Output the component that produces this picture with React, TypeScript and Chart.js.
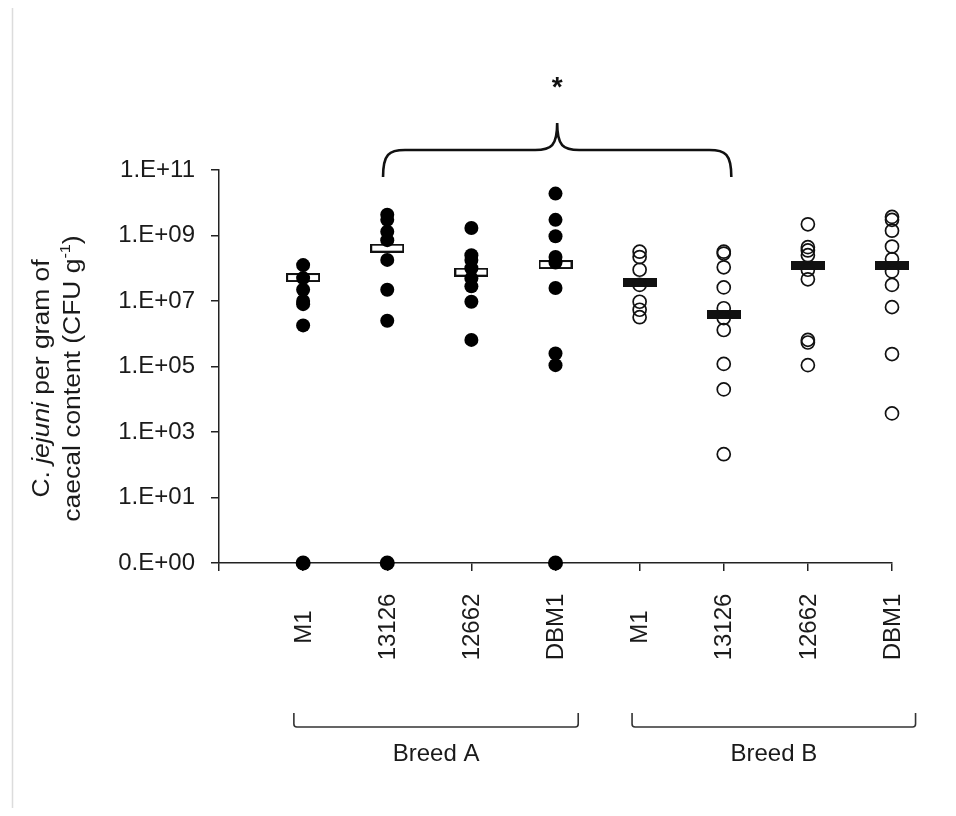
import React, { useEffect, useRef } from 'react';
import { Chart, registerables } from 'chart.js';
Chart.register(...registerables);

// ---- data ----
const categories = ['M1', '13126', '12662', 'DBM1', 'M1', '13126', '12662', 'DBM1'];
const breeds = ['Breed A', 'Breed B'];
const yTickValues = [0.1, 1e1, 1e3, 1e5, 1e7, 1e9, 1e11];
const yTickLabels = ['0.E+00', '1.E+01', '1.E+03', '1.E+05', '1.E+07', '1.E+09', '1.E+11'];
const significanceMark = '*';

// C. jejuni CFU per gram, individual birds (0 = not detected)
const breedA_M1 = [0, 1.8e6, 8e6, 1.0e7, 2.2e7, 5e7, 1.25e8];
const breedA_13126 = [0, 2.5e6, 2.2e7, 1.8e8, 7.2e8, 1.3e9, 3.0e9, 4.3e9];
const breedA_12662 = [6.5e5, 9.5e6, 2.8e7, 4.9e7, 1.0e8, 1.8e8, 2.5e8, 1.7e9];
const breedA_DBM1 = [0, 1.1e5, 2.5e5, 2.5e7, 1.5e8, 2.2e8, 9.5e8, 3.0e9, 1.9e10];
const breedB_M1 = [3.2e6, 5.4e6, 9.5e6, 3.1e7, 9e7, 2.2e8, 3.2e8];
const breedB_13126 = [2.1e2, 2e4, 1.2e5, 1.3e6, 3e6, 6e6, 2.6e7, 1.07e8, 2.8e8, 3.2e8];
const breedB_12662 = [1.1e5, 5.4e5, 6.5e5, 4.6e7, 9e7, 2.5e8, 3.5e8, 4.4e8, 2.2e9];
const breedB_DBM1 = [3.7e3, 2.4e5, 6.5e6, 3.1e7, 8e7, 1.9e8, 4.6e8, 1.4e9, 3.0e9, 3.7e9];

const meansA = [5.2e7, 4.1e8, 7.6e7, 1.3e8];
const meansB = [3.8e7, 4.0e6, 1.2e8, 1.2e8];

const groupsA = [breedA_M1, breedA_13126, breedA_12662, breedA_DBM1];
const groupsB = [breedB_M1, breedB_13126, breedB_12662, breedB_DBM1];

const FONT = "'Liberation Sans', Arial, sans-serif";
const INK = '#1a1a1a';

function toPoints(groups: number[][], offset: number, zero: boolean) {
  const pts: { x: number; y: number }[] = [];
  groups.forEach((g, i) => {
    g.forEach((v) => {
      if ((v === 0) === zero) pts.push({ x: i + 1 + offset, y: v === 0 ? 0.1 : v });
    });
  });
  return pts;
}

function barImage(fill: string, stroke: string) {
  const c = document.createElement('canvas');
  c.width = 34;
  c.height = 9;
  const ctx = c.getContext('2d')!;
  ctx.fillStyle = stroke;
  ctx.fillRect(0, 0, 34, 9);
  if (fill !== stroke) {
    ctx.fillStyle = fill;
    ctx.fillRect(2, 2, 30, 5);
  }
  return c;
}

type Seg = { t: string; italic?: boolean; sup?: boolean };

function drawRotated(ctx: CanvasRenderingContext2D, segs: Seg[], bx: number, cy: number, size: number, stretch: number) {
  const fontFor = (s: Seg) => `${s.italic ? 'italic ' : ''}${s.sup ? Math.round(size * 0.6) : size}px ${FONT}`;
  let total = 0;
  const widths = segs.map((s) => {
    ctx.font = fontFor(s);
    const w = ctx.measureText(s.t).width;
    total += w;
    return w;
  });
  ctx.save();
  ctx.translate(bx, cy);
  ctx.rotate(-Math.PI / 2);
  ctx.scale(stretch, 1);
  ctx.textBaseline = 'alphabetic';
  ctx.textAlign = 'left';
  ctx.fillStyle = INK;
  let x = -total / 2;
  segs.forEach((s, i) => {
    ctx.font = fontFor(s);
    ctx.fillText(s.t, x, s.sup ? -size * 0.42 : 0);
    x += widths[i];
  });
  ctx.restore();
}

const annotations = {
  id: 'annotations',
  beforeDraw(chart: any) {
    const ctx = chart.ctx as CanvasRenderingContext2D;
    ctx.save();
    ctx.strokeStyle = '#dcdcdc';
    ctx.lineWidth = 1.5;
    ctx.beginPath();
    ctx.moveTo(4.5, 0);
    ctx.lineTo(4.5, chart.height);
    ctx.stroke();
    ctx.restore();
  },
  afterDraw(chart: any) {
    const ctx = chart.ctx as CanvasRenderingContext2D;
    const xs = chart.scales.x;
    const area = chart.chartArea;
    ctx.save();
    // category labels (rotated, centred)
    ctx.fillStyle = INK;
    ctx.font = `24px ${FONT}`;
    categories.forEach((c, i) => {
      const px = xs.getPixelForValue(i + 1);
      ctx.save();
      ctx.translate(px, area.bottom + 64);
      ctx.rotate(-Math.PI / 2);
      ctx.textAlign = 'center';
      ctx.textBaseline = 'middle';
      ctx.fillText(c, 0, 1);
      ctx.restore();
    });
    // breed brackets
    const spans = [
      [0.89, 4.27],
      [4.91, 8.28],
    ];
    ctx.strokeStyle = '#333';
    ctx.lineWidth = 1.6;
    spans.forEach((s, i) => {
      const x1 = xs.getPixelForValue(s[0]);
      const x2 = xs.getPixelForValue(s[1]);
      const yt = area.bottom + 150;
      const yb = area.bottom + 164;
      const r = 3;
      ctx.beginPath();
      ctx.moveTo(x1, yt);
      ctx.lineTo(x1, yb - r);
      ctx.quadraticCurveTo(x1, yb, x1 + r, yb);
      ctx.lineTo(x2 - r, yb);
      ctx.quadraticCurveTo(x2, yb, x2, yb - r);
      ctx.lineTo(x2, yt);
      ctx.stroke();
      ctx.font = `24px ${FONT}`;
      ctx.textAlign = 'center';
      ctx.textBaseline = 'middle';
      ctx.fillText(breeds[i], (x1 + x2) / 2, area.bottom + 191);
    });
    // significance brace
    const bx1 = xs.getPixelForValue(1.95);
    const bx2 = xs.getPixelForValue(6.09);
    const bm = (bx1 + bx2) / 2;
    const yEnd = area.top + 7;
    const yH = area.top - 20;
    const yCusp = area.top - 47;
    const rx = 22;
    ctx.strokeStyle = '#111';
    ctx.lineWidth = 2.6;
    ctx.beginPath();
    ctx.moveTo(bx1, yEnd);
    ctx.bezierCurveTo(bx1, yH + 4, bx1 + 6, yH, bx1 + rx, yH);
    ctx.lineTo(bm - rx, yH);
    ctx.bezierCurveTo(bm - 6, yH, bm, yH - 4, bm, yCusp);
    ctx.bezierCurveTo(bm, yH - 4, bm + 6, yH, bm + rx, yH);
    ctx.lineTo(bx2 - rx, yH);
    ctx.bezierCurveTo(bx2 - 6, yH, bx2, yH + 4, bx2, yEnd);
    ctx.stroke();
    ctx.font = `bold 28px ${FONT}`;
    ctx.textAlign = 'center';
    ctx.textBaseline = 'alphabetic';
    ctx.fillStyle = '#111';
    ctx.fillText(significanceMark, bm, area.top - 74);
    // y-axis title
    const cy = (area.top + area.bottom) / 2 + 12;
    drawRotated(ctx, [{ t: 'C. ' }, { t: 'jejuni', italic: true }, { t: ' per gram of' }], 41, cy, 23, 1.15);
    drawRotated(ctx, [{ t: 'caecal content (CFU g' }, { t: '-1', sup: true }, { t: ')' }], 72, cy, 23, 1.15);
    ctx.restore();
  },
};

export default function App() {
  const ref = useRef<HTMLCanvasElement>(null);
  useEffect(() => {
    const canvas = ref.current!;
    const barA = barImage('#ffffff', '#111111');
    const barB = barImage('#111111', '#111111');
    const chart = new Chart(canvas, {
      type: 'scatter',
      data: {
        datasets: [
          {
            label: 'Breed A',
            data: toPoints(groupsA, 0, false),
            pointRadius: 7,
            pointBackgroundColor: '#000',
            pointBorderColor: '#000',
            pointBorderWidth: 0,
            clip: false,
          } as any,
          {
            label: 'Breed A not detected',
            data: toPoints(groupsA, 0, true),
            pointRadius: 7.5,
            pointBackgroundColor: '#000',
            pointBorderColor: '#000',
            pointBorderWidth: 0,
            clip: false,
          },
          {
            label: 'Breed B',
            data: toPoints(groupsB, 4, false),
            pointRadius: 6.5,
            pointBackgroundColor: 'rgba(255,255,255,0)',
            pointBorderColor: '#111',
            pointBorderWidth: 1.7,
            clip: false,
          },
          {
            label: 'Breed A mean',
            data: meansA.map((v, i) => ({ x: i + 1, y: v })),
            pointStyle: barA,
            clip: false,
          },
          {
            label: 'Breed B mean',
            data: meansB.map((v, i) => ({ x: i + 5, y: v })),
            pointStyle: barB,
            clip: false,
          },
        ],
      },
      options: {
        animation: false,
        responsive: false,
        devicePixelRatio: 1,
        layout: { padding: { top: 162, right: 56, left: 0, bottom: 0 } },
        plugins: { legend: { display: false }, tooltip: { enabled: false } },
        events: [],
        scales: {
          x: {
            type: 'linear',
            min: 0,
            max: 8,
            afterBuildTicks: (s: any) => {
              s.ticks = [0, 1, 2, 3, 4, 5, 6, 7, 8].map((v) => ({ value: v }));
            },
            afterFit: (s: any) => {
              s.height = 245;
            },
            ticks: { display: false },
            grid: { drawOnChartArea: false, drawTicks: true, tickLength: 8, color: '#222', lineWidth: 1.5 },
            border: { display: true, color: '#222', width: 1.5 },
          },
          y: {
            type: 'logarithmic',
            min: 0.1,
            max: 1e11,
            afterBuildTicks: (s: any) => {
              s.ticks = yTickValues.map((v) => ({ value: v }));
            },
            afterFit: (s: any) => {
              s.width = 211;
            },
            ticks: {
              autoSkip: false,
              padding: 16,
              color: INK,
              font: { family: FONT, size: 24 },
              callback: (v: any) => {
                const idx = yTickValues.findIndex((t) => Math.abs(Math.log10(t) - Math.log10(v)) < 1e-6);
                return idx >= 0 ? yTickLabels[idx] : '';
              },
            },
            grid: { drawOnChartArea: false, drawTicks: true, tickLength: 8, color: '#222', lineWidth: 1.5 },
            border: { display: true, color: '#222', width: 1.5 },
          },
        },
      },
      plugins: [annotations],
    });
    return () => chart.destroy();
  }, []);
  return <canvas ref={ref} width={940} height={800} style={{ display: 'block' }} />;
}
